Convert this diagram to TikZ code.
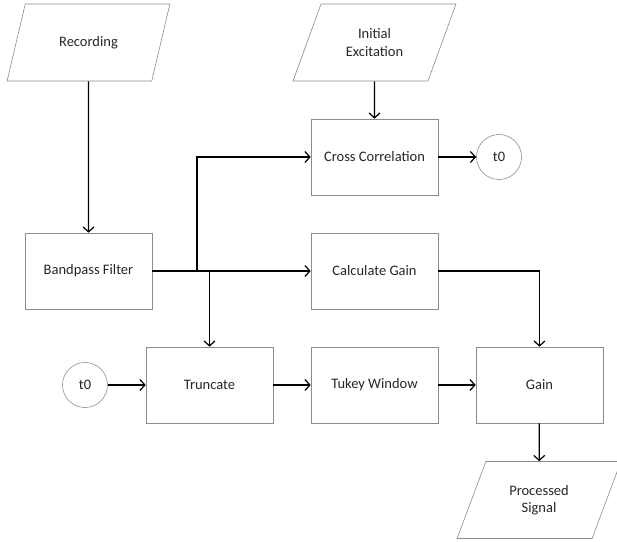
\documentclass[tikz,border=0pt]{standalone}
\usepackage{fontspec}
\setmainfont{Carlito}
\usetikzlibrary{shapes.geometric,arrows.meta}

\tikzset{
  proc/.style = {draw=black!45, line width=0.6pt, rectangle, minimum width=127pt, minimum height=76pt, text=black!85},
  io/.style = {draw=black!45, line width=0.6pt, trapezium, trapezium left angle=64, trapezium right angle=116,
               trapezium stretches=true, minimum width=164pt, minimum height=77pt, align=center, text=black!85},
  term/.style = {draw=black!45, line width=0.6pt, circle, minimum size=45pt, inner sep=0pt, text=black!85},
  arr/.style = {line width=1.2pt, -{Straight Barb[length=5pt,width=11pt]}}
}

\begin{document}
\begin{tikzpicture}[x=1pt, y=-1pt, font=\fontsize{14.5}{17.5}\selectfont]
\useasboundingbox (0,0) rectangle (617,541);
% inputs
\node [io] (rec) at (88.5,42.5) {Recording};
\node [io] (exc) at (374.5,42.5) {Initial\\Excitation};
% blocks
\node [proc] (bpf) at (88.5,271) {Bandpass Filter};
\node [proc] (xcorr) at (374.5,157) {Cross Correlation};
\node [term] (tzero) at (499,157) {t0};
\node [proc] (cgain) at (374.5,271) {Calculate Gain};
\node [term] (tstart) at (85,385) {t0};
\node [proc] (trunc) at (209.5,385) {Truncate};
\node [proc] (tukey) at (374.5,385) {Tukey Window};
\node [proc] (gain) at (539.5,385) {Gain};
% output
\node [io] (out) at (539,500) {Processed\\Signal};
% branch points
\coordinate (up) at (197,271);
\coordinate (down) at (209.5,271);
% connectors
\draw [arr] (rec) -- (bpf);
\draw [arr] (exc) -- (xcorr);
\draw [arr] (bpf) -- (cgain);
\draw [arr] (up) |- (xcorr);
\draw [arr] (down) -- (trunc);
\draw [arr] (xcorr) -- (tzero);
\draw [arr] (cgain) -| (gain);
\draw [arr] (tstart) -- (trunc);
\draw [arr] (trunc) -- (tukey);
\draw [arr] (tukey) -- (gain);
\draw [arr] (gain) -- (out);
\end{tikzpicture}
\end{document}
